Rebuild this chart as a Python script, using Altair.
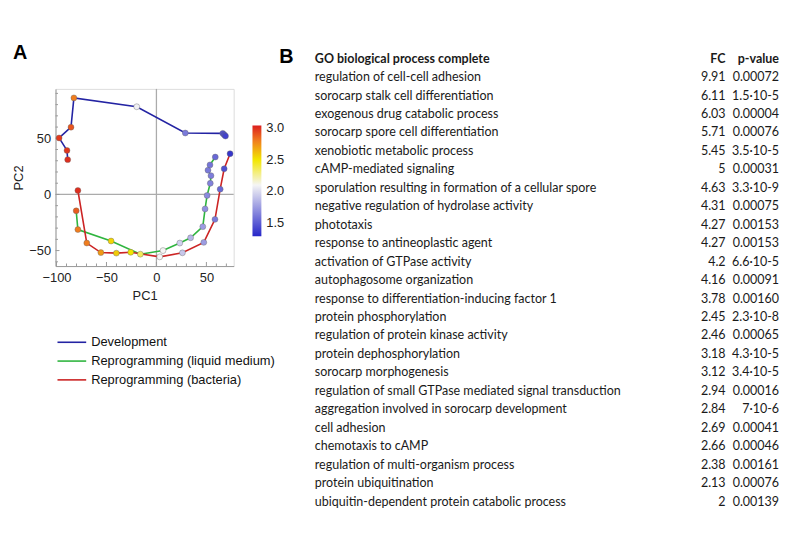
import altair as alt
import pandas as pd

# ---------------- Panel A: PCA trajectories ----------------
series_names = ["Development", "Reprogramming (liquid medium)", "Reprogramming (bacteria)"]
line_colors = ["#2323a3", "#2fb53f", "#cc2424"]

dev_x = [-88.8, -89.5, -97.4, -85.5, -82.6, -19.7, 28.9, 66.4, 67.8, 69.1]
dev_y = [31.0, 39.2, 50.3, 59.9, 86.0, 78.1, 54.7, 54.4, 53.2, 52.0]
dev_c = [3.0, 2.98, 2.97, 2.9, 2.8, 2.08, 1.62, 1.47, 1.44, 1.4]

liq_x = [-80.3, -78.6, -45.4, -16.1, 6.6, 23.4, 34.2, 46.4, 48.7, 50.7, 53.9, 54.6, 51.6, 53.6, 58.9]
liq_y = [-14.6, -31.3, -41.5, -53.2, -50.0, -43.3, -38.6, -28.7, -12.9, -0.9, 9.9, 16.7, 21.6, 26.3, 33.3]
liq_c = [2.88, 2.8, 2.55, 2.35, 2.1, 1.95, 1.85, 1.75, 1.7, 1.68, 1.65, 1.63, 1.62, 1.6, 1.55]

bac_x = [-78.6, -69.7, -55.6, -40.1, -25.7, 3.3, 26.0, 47.4, 58.6, 63.8, 67.8, 73.7]
bac_y = [3.5, -43.3, -51.8, -52.3, -51.5, -55.6, -52.0, -42.7, -22.2, 4.7, 22.8, 36.3]
bac_c = [3.0, 2.8, 2.72, 2.58, 2.5, 2.1, 1.92, 1.75, 1.62, 1.55, 1.45, 1.35]

x_major_ticks = [-100, -50, 0, 50]
x_minor_ticks = [-90, -80, -70, -60, -40, -30, -20, -10, 10, 20, 30, 40, 60, 70]
y_major_ticks = [-50, 0, 50]
y_minor_ticks = [-60, -40, -30, -20, -10, 10, 20, 30, 40, 60, 70, 80, 90]
colorbar_ticks = [1.5, 2.0, 2.5, 3.0]

# ---------------- Panel B: GO table ----------------
go_terms = [
    "regulation of cell-cell adhesion",
    "sorocarp stalk cell differentiation",
    "exogenous drug catabolic process",
    "sorocarp spore cell differentiation",
    "xenobiotic metabolic process",
    "cAMP-mediated signaling",
    "sporulation resulting in formation of a cellular spore",
    "negative regulation of hydrolase activity",
    "phototaxis",
    "response to antineoplastic agent",
    "activation of GTPase activity",
    "autophagosome organization",
    "response to differentiation-inducing factor 1",
    "protein phosphorylation",
    "regulation of protein kinase activity",
    "protein dephosphorylation",
    "sorocarp morphogenesis",
    "regulation of small GTPase mediated signal transduction",
    "aggregation involved in sorocarp development",
    "cell adhesion",
    "chemotaxis to cAMP",
    "regulation of multi-organism process",
    "protein ubiquitination",
    "ubiquitin-dependent protein catabolic process",
]
fc_values = ["9.91", "6.11", "6.03", "5.71", "5.45", "5", "4.63", "4.31", "4.27", "4.27",
             "4.2", "4.16", "3.78", "2.45", "2.46", "3.18", "3.12", "2.94", "2.84", "2.69",
             "2.66", "2.38", "2.13", "2"]
p_values = ["0.00072", "1.5·10-5", "0.00004", "0.00076", "3.5·10-5", "0.00031", "3.3·10-9",
            "0.00075", "0.00153", "0.00153", "6.6·10-5", "0.00091", "0.00160", "2.3·10-8",
            "0.00065", "4.3·10-5", "3.4·10-5", "0.00016", "7·10-6", "0.00041", "0.00046",
            "0.00161", "0.00076", "0.00139"]
header = ["GO biological process complete", "FC", "p-value"]

# ---------------- build tables ----------------
rows = []
for name, xs, ys, cs in zip(series_names, [dev_x, liq_x, bac_x], [dev_y, liq_y, bac_y], [dev_c, liq_c, bac_c]):
    for i, (x, y, c) in enumerate(zip(xs, ys, cs)):
        rows.append({"series": name, "order": i, "pc1": x, "pc2": y, "val": c})
df = pd.DataFrame(rows)

FONT = "Liberation Sans"
TFONT = "Lato"
AXIS_GRAY = "#9a9a9a"

xscale = alt.Scale(domain=[-101, 77.3], nice=False, zero=False)
yscale = alt.Scale(domain=[-63.8, 94], nice=False, zero=False)
stroke_scale = alt.Scale(domain=series_names, range=line_colors)
fill_scale = alt.Scale(domain=[1.29, 2.1, 2.5, 2.8, 3.04],
                       range=["#2626c8", "#f5f5f5", "#f2e600", "#f07d1e", "#dc1e1e"],
                       interpolate="rgb")

xaxis = alt.Axis(values=x_major_ticks, grid=False, ticks=False, domainColor=AXIS_GRAY,
                 labelFont=FONT, labelFontSize=13, labelColor="#222", labelPadding=6,
                 title="PC1", titleFont=FONT, titleFontSize=13, titleFontWeight="normal",
                 titleColor="#222", titlePadding=5)
yaxis = alt.Axis(values=y_major_ticks, grid=False, ticks=False, domainColor=AXIS_GRAY,
                 labelFont=FONT, labelFontSize=13, labelColor="#222", labelPadding=5,
                 title="PC2", titleFont=FONT, titleFontSize=13, titleFontWeight="normal",
                 titleColor="#222", titlePadding=3)

zero_df = pd.DataFrame({"z": [0]})
vrule = alt.Chart(zero_df).mark_rule(color="#ababab", strokeWidth=1.3).encode(
    x=alt.X("z:Q", scale=xscale, axis=xaxis))
hrule = alt.Chart(zero_df).mark_rule(color="#ababab", strokeWidth=1.3).encode(
    y=alt.Y("z:Q", scale=yscale, axis=yaxis))

# inward frame ticks
def xticks(vals, length):
    return alt.Chart(pd.DataFrame({"v": vals})).mark_tick(
        orient="vertical", size=length, thickness=1, color=AXIS_GRAY, opacity=1).encode(
        x=alt.X("v:Q", scale=xscale, axis=xaxis), y=alt.value(179 - length / 2))

def yticks(vals, length):
    return alt.Chart(pd.DataFrame({"v": vals})).mark_tick(
        orient="horizontal", size=length, thickness=1, color=AXIS_GRAY, opacity=1).encode(
        y=alt.Y("v:Q", scale=yscale, axis=yaxis), x=alt.value(length / 2))

lines = alt.Chart(df).mark_line(strokeWidth=1.6).encode(
    x=alt.X("pc1:Q", scale=xscale, axis=xaxis),
    y=alt.Y("pc2:Q", scale=yscale, axis=yaxis),
    stroke=alt.Stroke("series:N", scale=stroke_scale, legend=None),
    order=alt.Order("order:Q"),
)

grad_legend = alt.Legend(orient="none", legendX=199, legendY=37, direction="vertical",
                         gradientLength=112, gradientThickness=9, title=None,
                         values=colorbar_ticks, format=".1f", labelFont=FONT,
                         labelFontSize=13, labelColor="#222", labelOffset=5,
                         gradientStrokeWidth=0)
points = alt.Chart(df).mark_circle(size=36, opacity=1, stroke="#666", strokeWidth=0.4).encode(
    x=alt.X("pc1:Q", scale=xscale, axis=xaxis),
    y=alt.Y("pc2:Q", scale=yscale, axis=yaxis),
    fill=alt.Fill("val:Q", scale=fill_scale, legend=grad_legend),
)

scatter = alt.layer(vrule, hrule,
                    xticks(x_major_ticks, 4), xticks(x_minor_ticks, 2.5),
                    yticks(y_major_ticks, 4), yticks(y_minor_ticks, 2.5),
                    lines, points)

# manual line legend
leg_df = pd.DataFrame({"series": series_names, "pos": [0, 1, 2]})
leg_y = alt.Scale(domain=[0, 2], range=[256, 294])
leg_rules = alt.Chart(leg_df).mark_rule(strokeWidth=1.6).encode(
    x=alt.value(2), x2=alt.value(31),
    y=alt.Y("pos:Q", scale=leg_y, axis=None),
    stroke=alt.Stroke("series:N", scale=stroke_scale, legend=None),
)
leg_text = alt.Chart(leg_df).mark_text(align="left", baseline="middle", font=FONT,
                                       fontSize=13, color="#111").encode(
    x=alt.value(36), y=alt.Y("pos:Q", scale=leg_y, axis=None), text="series:N")
legend_layer = alt.layer(leg_rules, leg_text)

# table
tbl = pd.DataFrame({"row": list(range(len(go_terms))), "term": go_terms, "fc": fc_values, "p": p_values})
hdr = pd.DataFrame({"row": [-1], "term": [header[0]], "fc": [header[1]], "p": [header[2]]})
tbl_y = alt.Scale(domain=[-1, 23], range=[-30.5, 417])

def col(data, field, xpos, align, weight):
    return alt.Chart(data).mark_text(align=align, baseline="middle", font=TFONT, fontSize=12.6,
                                     fontWeight=weight, color="#1a1a1a").encode(
        x=alt.value(xpos), y=alt.Y("row:Q", scale=tbl_y, axis=None), text=f"{field}:N")

table_layer = alt.layer(
    col(tbl, "term", 262, "left", "normal"),
    col(tbl, "fc", 677, "right", "normal"),
    col(tbl, "p", 731, "right", "normal"),
    col(hdr, "term", 262, "left", "bold"),
    col(hdr, "fc", 677, "right", "bold"),
    col(hdr, "p", 731, "right", "bold"),
)

# panel letters
panel_df = pd.DataFrame({"t": ["A", "B"]})
letter_a = alt.Chart(panel_df[panel_df.t == "A"]).mark_text(
    align="left", baseline="alphabetic", font=FONT, fontSize=20, fontWeight="bold", color="#000"
).encode(x=alt.value(-43), y=alt.value(-30), text="t:N")
letter_b = alt.Chart(panel_df[panel_df.t == "B"]).mark_text(
    align="left", baseline="alphabetic", font=FONT, fontSize=20, fontWeight="bold", color="#000"
).encode(x=alt.value(226), y=alt.value(-26), text="t:N")

chart = alt.layer(scatter, legend_layer, table_layer, letter_a, letter_b).resolve_scale(
    y="independent"
).properties(
    width=180, height=179,
    autosize=alt.AutoSizeParams(type="none"),
    padding={"left": 48, "top": 79, "right": 553, "bottom": 270},
).configure_view(stroke=None).configure(background="white")

chart.save("out.html", embed_options={"renderer": "svg", "actions": False})
